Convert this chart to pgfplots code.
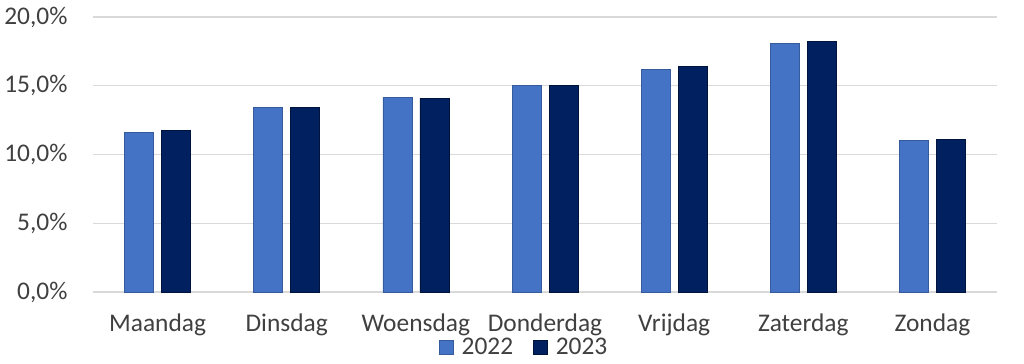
\documentclass[border=0pt]{standalone}
\usepackage{pgfplots}
\pgfplotsset{compat=1.18}
\usepackage{fontspec}
\setmainfont{Carlito}
\definecolor{c2022}{HTML}{4472C4}
\definecolor{c2023}{HTML}{002060}
\definecolor{gridc}{HTML}{D9D9D9}
\definecolor{txt}{HTML}{404040}
\begin{document}
\begin{tikzpicture}[x=1bp,y=1bp]
\begin{axis}[
  scale only axis,
  width=904bp, height=275bp,
  ybar=8bp, bar width=29bp,
  xmin=-0.5, xmax=6.5,
  ymin=0, ymax=20,
  xtick=data,
  xticklabels={Maandag,Dinsdag,Woensdag,Donderdag,Vrijdag,Zaterdag,Zondag},
  ytick={0,5,10,15,20},
  yticklabels={{0,0\%},{5,0\%},{10,0\%},{15,0\%},{20,0\%}},
  ymajorgrids, grid style={gridc, line width=1.2bp},
  axis y line*=left,
  y axis line style={draw=none},
  axis x line*=bottom,
  x axis line style={gridc, line width=1.2bp, -},
  major tick length=0pt,
  tick style={draw=none},
  ticklabel style={font=\fontsize{25.5}{30}\selectfont, text=txt},
  yticklabel style={xshift=-22bp},
  xticklabel style={yshift=-18bp},
  /pgf/number format/assume math mode=true,
  legend style={draw=none, fill=none, at={(0.477,-0.16)}, anchor=north,
    legend columns=2, font=\fontsize{25.5}{30}\selectfont, text=txt,
    /tikz/every odd column/.append style={column sep=6bp},
    /tikz/every even column/.append style={column sep=18bp},
    inner sep=0pt, row sep=0pt},
  legend image code/.code={\fill[#1] (0bp,-7bp) rectangle (14bp,7bp);},
  clip=false,
]
\addplot[fill=c2022, draw=c2022!80!black, line width=0.6bp] coordinates {(0,11.63) (1,13.40) (2,14.15) (3,15.02) (4,16.18) (5,18.09) (6,11.05)};
\addplot[fill=c2023, draw=c2023!60!black, line width=0.6bp] coordinates {(0,11.78) (1,13.40) (2,14.08) (3,15.02) (4,16.42) (5,18.24) (6,11.10)};
\legend{2022,2023}
\end{axis}
\path (current axis.south west) ++(-93bp,-72bp) rectangle ++(1024bp,364bp);
\end{tikzpicture}
\end{document}
